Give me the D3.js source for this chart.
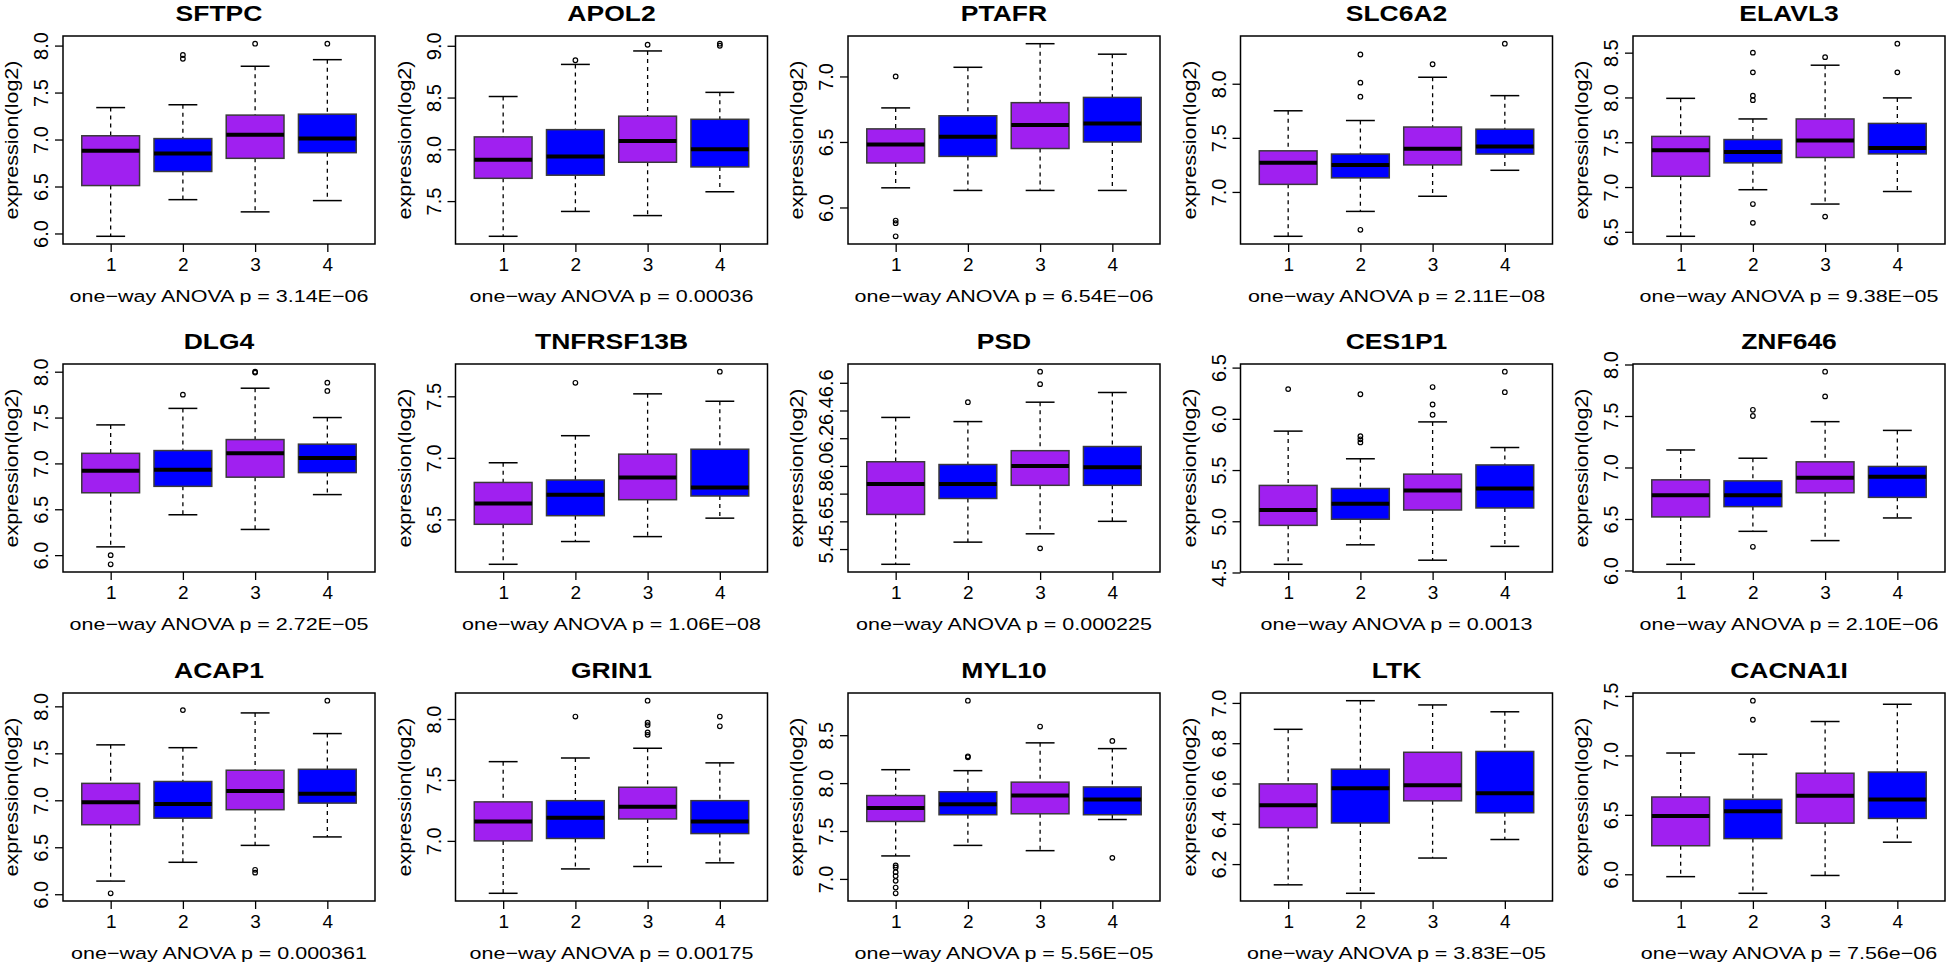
<!DOCTYPE html>
<html><head><meta charset="utf-8">
<script src="https://cdn.jsdelivr.net/npm/d3@7"></script>
<style>body{margin:0;background:#fff} svg{display:block}</style>
</head><body>
<svg id="chart" width="1946" height="963"></svg>
<script>
// ---------- DATA ----------
const genes = ["SFTPC","APOL2","PTAFR","SLC6A2","ELAVL3","DLG4","TNFRSF13B","PSD","CES1P1","ZNF646","ACAP1","GRIN1","MYL10","LTK","CACNA1I"];
const groups = ["1","2","3","4"];
const pLabels = ["3.14E\u221206","0.00036","6.54E\u221206","2.11E\u221208","9.38E\u221205","2.72E\u221205","1.06E\u221208","0.000225","0.0013","2.10E\u221206","0.000361","0.00175","5.56E\u221205","3.83E\u221205","7.56e\u221206"];
const yTicks = [
  [6.0,6.5,7.0,7.5,8.0],[7.5,8.0,8.5,9.0],[6.0,6.5,7.0],[7.0,7.5,8.0],[6.5,7.0,7.5,8.0,8.5],
  [6.0,6.5,7.0,7.5,8.0],[6.5,7.0,7.5],[5.4,5.6,5.8,6.0,6.2,6.4,6.6],[4.5,5.0,5.5,6.0,6.5],[6.0,6.5,7.0,7.5,8.0],
  [6.0,6.5,7.0,7.5,8.0],[7.0,7.5,8.0],[7.0,7.5,8.0,8.5],[6.2,6.4,6.6,6.8,7.0],[6.0,6.5,7.0,7.5]
];
const whiskerLow = [
  [5.97,6.36,6.23,6.35],[7.16,7.40,7.36,7.59],[6.15,6.13,6.13,6.13],[6.59,6.82,6.96,7.20],[6.45,6.97,6.81,6.95],
  [6.09,6.44,6.28,6.66],[6.135,6.32,6.36,6.51],[5.29,5.45,5.51,5.60],[4.58,4.77,4.62,4.755],[6.06,6.38,6.29,6.51],
  [6.14,6.34,6.52,6.61],[6.57,6.77,6.79,6.82],[7.24,7.35,7.295,7.62],[6.097,6.055,6.23,6.322],[5.98,5.84,5.99,6.27]
];
const q1 = [
  [6.51,6.66,6.80,6.86],[7.72,7.75,7.875,7.83],[6.34,6.39,6.45,6.50],[7.07,7.13,7.25,7.35],[7.12,7.27,7.33,7.37],
  [6.68,6.75,6.85,6.90],[6.46,6.53,6.66,6.69],[5.65,5.765,5.86,5.86],[4.96,5.02,5.11,5.13],[6.52,6.62,6.755,6.71],
  [6.74,6.81,6.90,6.97],[7.00,7.02,7.18,7.06],[7.60,7.67,7.68,7.67],[6.381,6.404,6.514,6.455],[6.24,6.30,6.43,6.47]
];
const medians = [
  [6.88,6.85,7.05,7.01],[7.90,7.93,8.08,8.00],[6.48,6.54,6.63,6.64],[7.27,7.25,7.40,7.42],[7.41,7.39,7.52,7.435],
  [6.92,6.93,7.11,7.06],[6.63,6.70,6.84,6.76],[5.87,5.87,6.00,5.99],[5.11,5.17,5.30,5.32],[6.73,6.73,6.90,6.91],
  [6.98,6.96,7.10,7.07],[7.16,7.19,7.28,7.16],[7.74,7.78,7.87,7.83],[6.492,6.576,6.591,6.552],[6.49,6.53,6.66,6.63]
];
const q3 = [
  [7.04,7.01,7.26,7.27],[8.12,8.19,8.32,8.29],[6.60,6.70,6.80,6.84],[7.38,7.35,7.60,7.58],[7.565,7.53,7.76,7.71],
  [7.11,7.14,7.26,7.21],[6.80,6.82,7.03,7.07],[6.03,6.01,6.11,6.14],[5.35,5.32,5.46,5.55],[6.88,6.87,7.055,7.01],
  [7.18,7.20,7.32,7.33],[7.32,7.33,7.44,7.33],[7.87,7.91,8.01,7.96],[6.598,6.671,6.755,6.759],[6.65,6.63,6.85,6.86]
];
const whiskerHigh = [
  [7.34,7.37,7.78,7.85],[8.51,8.82,8.95,8.55],[6.76,7.07,7.25,7.17],[7.75,7.66,8.06,7.89],[7.99,7.76,8.36,7.995],
  [7.42,7.60,7.82,7.50],[6.96,7.18,7.52,7.46],[6.35,6.32,6.46,6.53],[5.88,5.61,5.97,5.72],[7.17,7.09,7.445,7.36],
  [7.59,7.56,7.93,7.71],[7.65,7.68,7.76,7.64],[8.14,8.13,8.42,8.36],[6.869,7.011,6.99,6.956],[7.02,7.01,7.285,7.43]
];
const outliers = [
  [[],[7.90,7.86],[8.02],[8.02]],
  [[],[8.86],[9.01],[9.02,9.00]],
  [[7.00,5.90,5.88,5.78],[],[],[]],
  [[],[8.27,8.01,7.88,6.65],[8.18],[8.37]],
  [[],[8.50,8.28,8.02,7.97,6.81,6.60],[8.45,6.67],[8.60,8.28]],
  [[6.00,5.90],[7.75],[8.00,7.99],[7.88,7.79]],
  [[],[7.61],[],[7.70]],
  [[],[6.46],[6.68,6.59,5.405],[]],
  [[6.29],[6.24,5.83,5.80,5.77],[6.31,6.14,6.04],[6.46,6.26]],
  [[],[7.56,7.50,6.23],[7.93,7.69],[]],
  [[6.01],[7.96],[6.26,6.23],[8.06]],
  [[],[8.02],[8.15,7.97,7.95,7.89,7.87],[8.02,7.94]],
  [[7.14,7.12,7.07,7.03,6.98,6.91,6.85],[8.86,8.28,8.27],[8.59],[8.44,7.22]],
  [[],[],[],[]],
  [[],[7.46,7.30],[],[]]
];
const groupColors = ["#A020F0","#0000FF","#A020F0","#0000FF"];

// ---------- LAYOUT ----------
const plotLeft0 = 63, colStep = 392.5, plotW = 312, plotH = 208;
const rowTops = [36, 364, 693];
const font = "'Liberation Sans', Arial, Helvetica, sans-serif";

const svg = d3.select("#chart");

genes.forEach((gene, i) => {
  const col = i % 5, row = Math.floor(i / 5);
  const left = plotLeft0 + col * colStep, top = rowTops[row];
  const g = svg.append("g").attr("transform", `translate(${left},${top})`);

  const all = [...whiskerLow[i], ...whiskerHigh[i], ...outliers[i].flat()];
  const [mn, mx] = d3.extent(all);
  const pad = (mx - mn) * 0.04;
  const y = d3.scaleLinear().domain([mn - pad, mx + pad]).range([plotH, 0]);
  const x = d3.scaleLinear().domain([0.34, 4.66]).range([0, plotW]);

  groups.forEach((lab, k) => {
    const c = k + 1;
    const bg = g.append("g");
    bg.append("line").attr("x1", x(c)).attr("x2", x(c)).attr("y1", y(whiskerHigh[i][k])).attr("y2", y(q3[i][k]))
      .attr("stroke", "#000").attr("stroke-width", 1.3).attr("stroke-dasharray", "4,4");
    bg.append("line").attr("x1", x(c)).attr("x2", x(c)).attr("y1", y(q1[i][k])).attr("y2", y(whiskerLow[i][k]))
      .attr("stroke", "#000").attr("stroke-width", 1.3).attr("stroke-dasharray", "4,4");
    [whiskerHigh[i][k], whiskerLow[i][k]].forEach(v => {
      bg.append("line").attr("x1", x(c - 0.2)).attr("x2", x(c + 0.2)).attr("y1", y(v)).attr("y2", y(v))
        .attr("stroke", "#000").attr("stroke-width", 1.5);
    });
    bg.append("rect").attr("x", x(c - 0.4)).attr("width", x(c + 0.4) - x(c - 0.4))
      .attr("y", y(q3[i][k])).attr("height", y(q1[i][k]) - y(q3[i][k]))
      .attr("fill", groupColors[k]).attr("stroke", "#3a3a3a").attr("stroke-width", 1.5);
    bg.append("line").attr("x1", x(c - 0.4)).attr("x2", x(c + 0.4)).attr("y1", y(medians[i][k])).attr("y2", y(medians[i][k]))
      .attr("stroke", "#000").attr("stroke-width", 4);
    bg.selectAll("circle").data(outliers[i][k]).join("circle")
      .attr("cx", x(c)).attr("cy", d => y(d)).attr("r", 2.3)
      .attr("fill", "none").attr("stroke", "#000").attr("stroke-width", 1.2);
  });

  g.append("rect").attr("x", 0).attr("y", 0).attr("width", plotW).attr("height", plotH)
    .attr("fill", "none").attr("stroke", "#000").attr("stroke-width", 1.5);

  const xa = g.append("g").attr("transform", `translate(0,${plotH})`)
    .call(d3.axisBottom(x).tickValues([1,2,3,4]).tickFormat((d) => groups[d - 1]).tickSize(8).tickSizeOuter(0));
  xa.select(".domain").remove();
  xa.selectAll(".tick line").attr("stroke", "#000").attr("stroke-width", 1.3);
  xa.selectAll(".tick text").attr("y", 27).attr("dy", 0).attr("fill", "#000")
    .style("font-family", font).style("font-size", "19px");

  const ya = g.append("g")
    .call(d3.axisLeft(y).tickValues(yTicks[i]).tickFormat(d3.format(".1f")).tickSize(8).tickSizeOuter(0));
  ya.select(".domain").remove();
  ya.selectAll(".tick line").attr("stroke", "#000").attr("stroke-width", 1.3);
  ya.selectAll(".tick text").attr("x", 0).attr("y", 0).attr("dy", 0).attr("text-anchor", "middle")
    .attr("transform", "translate(-15,0) rotate(-90)").attr("fill", "#000")
    .style("font-family", font).style("font-size", "20px");

  g.append("text").attr("transform", `translate(-45,${plotH / 2}) rotate(-90) scale(1,0.88)`).attr("text-anchor", "middle")
    .style("font-family", font).style("font-size", "21.5px").text("expression(log2)");
  g.append("text").attr("transform", `translate(${plotW / 2},-15) scale(1,0.85)`).attr("text-anchor", "middle")
    .style("font-family", font).style("font-size", "26.5px").style("font-weight", "bold").text(gene);
  g.append("text").attr("transform", `translate(${plotW / 2},${plotH + 58}) scale(1,0.8)`).attr("text-anchor", "middle")
    .style("font-family", font).style("font-size", "21.5px").text(`one\u2212way ANOVA p = ${pLabels[i]}`);
});
</script>
</body></html>
